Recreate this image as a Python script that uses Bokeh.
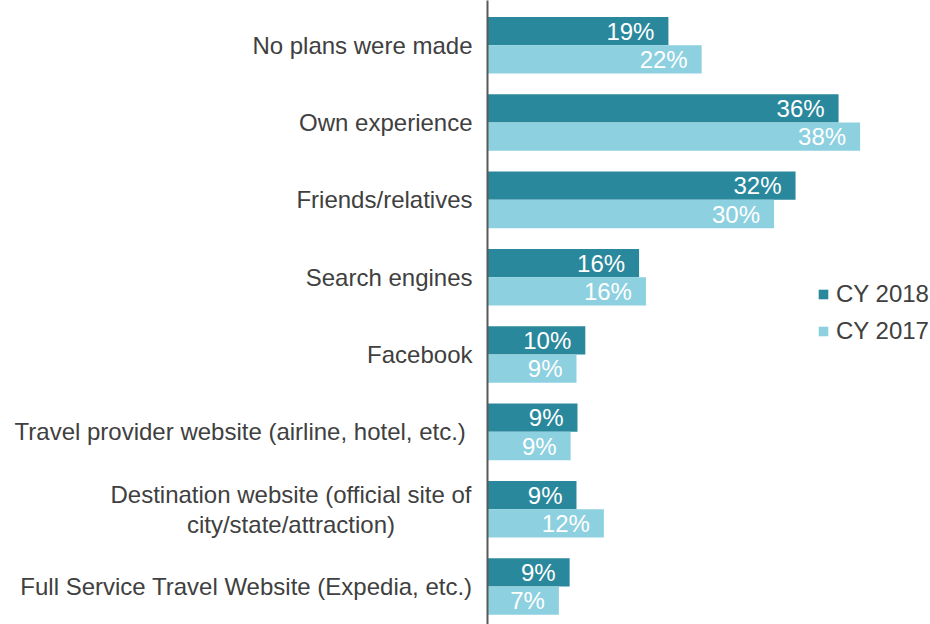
from bokeh.plotting import figure
from bokeh.layouts import row
from bokeh.models import Range1d, FixedTicker, ColumnDataSource
from bokeh.core.properties import value
from bokeh.embed import file_html
from bokeh.resources import INLINE

categories = [
    "No plans were made",
    "Own experience",
    "Friends/relatives",
    "Search engines",
    "Facebook",
    "Travel provider website (airline, hotel,  etc.)",
    "Destination website (official site of\ncity/state/attraction)",
    "Full Service Travel Website (Expedia, etc.)",
]
cy2018 = [18.5, 35.9, 31.5, 15.5, 10.0, 9.2, 9.1, 8.4]
cy2017 = [21.9, 38.1, 29.3, 16.2, 9.1, 8.5, 11.9, 7.3]
labels2018 = ["19%", "36%", "32%", "16%", "10%", "9%", "9%", "9%"]
labels2017 = ["22%", "38%", "30%", "16%", "9%", "9%", "12%", "7%"]

DARK = "#2A889D"
LIGHT = "#8DD0E0"
TXT = "#404040"
FONT = "Liberation Sans"

H = 624
LABEL_W = 485
pos = list(range(len(categories)))
bar_h = 0.366
yr = Range1d(start=7.491, end=-0.578)

src18 = ColumnDataSource(dict(y=[p_ - bar_h / 2 for p_ in pos], v=cy2018, t=labels2018))
src17 = ColumnDataSource(dict(y=[p_ + bar_h / 2 for p_ in pos], v=cy2017, t=labels2017))

# ---- category labels panel (shares the y scale with the bars) ----
single = [i for i, c in enumerate(categories) if "\n" not in c]
multi = [i for i, c in enumerate(categories) if "\n" in c]
lab = figure(width=LABEL_W, height=H, output_backend="svg", toolbar_location=None,
             x_range=Range1d(0, LABEL_W), y_range=yr,
             x_axis_location=None, y_axis_location=None, min_border=0)
lab.outline_line_color = None
lab.grid.visible = False
lab.text(x=[472] * len(single), y=[pos[i] for i in single], text=[categories[i] for i in single],
         text_align="right", text_baseline="middle", text_color=TXT,
         text_font=value(FONT), text_font_size="24px")
lab.text(x=[290.5] * len(multi), y=[pos[i] for i in multi], text=[categories[i] for i in multi],
         text_align="center", text_baseline="middle", text_color=TXT,
         text_font=value(FONT), text_font_size="24px", text_line_height=1.1)

# ---- bars panel ----
p = figure(width=445, height=H, output_backend="svg", toolbar_location=None,
           x_range=Range1d(0, 45.3), y_range=yr,
           x_axis_location=None, min_border=0, min_border_left=2)
p.outline_line_color = None
p.grid.visible = False

p.hbar(y="y", left=0, right="v", height=bar_h, source=src18,
       fill_color=DARK, line_color=None, legend_label="CY 2018")
p.hbar(y="y", left=0, right="v", height=bar_h, source=src17,
       fill_color=LIGHT, line_color=None, legend_label="CY 2017")

for s in (src18, src17):
    p.text(x="v", y="y", text="t", source=s, x_offset=-14,
           text_align="right", text_baseline="middle", text_color="white",
           text_font=value(FONT), text_font_size="24px")

ax = p.yaxis[0]
ax.ticker = FixedTicker(ticks=[])
ax.major_label_standoff = 0
ax.major_tick_out = 0
ax.major_tick_in = 0
ax.major_tick_line_color = None
ax.minor_tick_line_color = None
ax.axis_line_color = "#595959"
ax.axis_line_width = 2

lg = p.legend[0]
lg.location = (330, 279)
lg.padding = 0
lg.margin = 0
lg.border_line_color = None
lg.background_fill_alpha = 0
lg.glyph_width = 12
lg.glyph_height = 12
lg.label_height = 24
lg.spacing = 9
lg.label_standoff = 7
lg.label_text_font = FONT
lg.label_text_font_size = "24px"
lg.label_text_color = TXT

layout = row(lab, p, spacing=0)
open("out.html", "w").write(file_html(layout, INLINE))
